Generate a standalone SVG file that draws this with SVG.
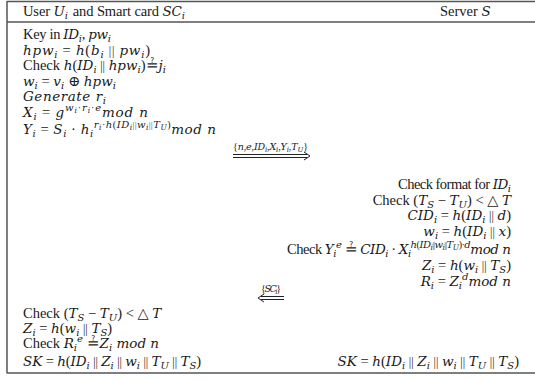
<svg xmlns="http://www.w3.org/2000/svg" width="535" height="380" viewBox="0 0 535 380">
<style>
.t{font-family:"Liberation Serif","DejaVu Serif",serif;font-size:14.5px;fill:#1a1a1a}
.m{font-style:italic;font-family:"DejaVu Serif",serif;font-size:13.5px}
.s{font-size:10px}
.ss{font-size:7.5px}
.p{font-family:"Liberation Serif",serif;font-size:12px;font-style:normal}
.lb{font-family:"Liberation Serif","DejaVu Serif",serif;font-size:10px;fill:#1a1a1a}
.lb .m{font-size:9.5px}
.lb .ss{font-size:7px}
.frame{stroke:#555;stroke-width:1.5;fill:none}
.arr{stroke:#222;stroke-width:1;fill:none}
</style>
<rect width="535" height="380" fill="#fff"/>
<g id="frame">
<path class="frame" d="M7,1.5 H535 M7,22 H535 M7,1 V373.5 M7,373 H535"/>
</g>
<g id="header">
<text class="t" x="23" y="16" textLength="162" lengthAdjust="spacing">User <tspan class="m">U</tspan><tspan class="s m" dy="3">i</tspan><tspan dy="-3" dx="5">and Smart card </tspan><tspan class="m">SC</tspan><tspan class="s m" dy="3">i</tspan></text>
<text class="t" x="440" y="16">Server <tspan class="m">S</tspan></text>
</g>
<g id="user">
<text class="t" x="23" y="39" textLength="88" lengthAdjust="spacing">Key in <tspan class="m">ID</tspan><tspan class="s m" dy="3">i</tspan><tspan dy="-3">, </tspan><tspan class="m">pw</tspan><tspan class="s m" dy="3">i</tspan></text>
<text class="t" x="23" y="55" textLength="127" lengthAdjust="spacing"><tspan class="m">hpw</tspan><tspan class="s m" dy="3">i</tspan><tspan dy="-3"> = </tspan><tspan class="m">h</tspan>(<tspan class="m">b</tspan><tspan class="s m" dy="3">i</tspan><tspan dy="-3"> </tspan><tspan class="p">||</tspan> <tspan class="m">pw</tspan><tspan class="s m" dy="3">i</tspan><tspan dy="-3">)</tspan></text>
<text class="t" x="23" y="70">Check <tspan class="m">h</tspan>(<tspan class="m">ID</tspan><tspan class="s m" dy="3">i</tspan><tspan dy="-3"> </tspan><tspan class="p">||</tspan> <tspan class="m">hpw</tspan><tspan class="s m" dy="3">i</tspan><tspan dy="-3">)≟</tspan><tspan class="m">j</tspan><tspan class="s m" dy="3">i</tspan></text>
<text class="t" x="23" y="86" textLength="93" lengthAdjust="spacing"><tspan class="m">w</tspan><tspan class="s m" dy="3">i</tspan><tspan dy="-3"> = </tspan><tspan class="m">v</tspan><tspan class="s m" dy="3">i</tspan><tspan dy="-3"> ⊕ </tspan><tspan class="m">hpw</tspan><tspan class="s m" dy="3">i</tspan></text>
<text class="t" x="23" y="101" textLength="83" lengthAdjust="spacing"><tspan class="m">Generate r</tspan><tspan class="s m" dy="3">i</tspan></text>
<text class="t" x="23" y="117" textLength="125" lengthAdjust="spacing"><tspan class="m">X</tspan><tspan class="s m" dy="3">i</tspan><tspan dy="-3"> = </tspan><tspan class="m">g</tspan><tspan class="s m" dy="-6">w</tspan><tspan class="ss m" dy="2">i</tspan><tspan class="s" dy="-2">·</tspan><tspan class="s m">r</tspan><tspan class="ss m" dy="2">i</tspan><tspan class="s" dy="-2">·</tspan><tspan class="s m">e</tspan><tspan class="m" dy="6">mod n</tspan></text>
<text class="t" x="23" y="134" textLength="193" lengthAdjust="spacing"><tspan class="m">Y</tspan><tspan class="s m" dy="3">i</tspan><tspan dy="-3"> = </tspan><tspan class="m">S</tspan><tspan class="s m" dy="3">i</tspan><tspan dy="-3"> · </tspan><tspan class="m">h</tspan><tspan class="s m" dy="3">i</tspan><tspan class="s m" dy="-9">r</tspan><tspan class="ss m" dy="2">i</tspan><tspan class="s" dy="-2">·</tspan><tspan class="s m">h</tspan><tspan class="s">(</tspan><tspan class="s m">ID</tspan><tspan class="ss m" dy="2">i</tspan><tspan class="ss" dy="-2">||</tspan><tspan class="s m">w</tspan><tspan class="ss m" dy="2">i</tspan><tspan class="ss" dy="-2">||</tspan><tspan class="s m">T</tspan><tspan class="ss m" dy="2">U</tspan><tspan class="s" dy="-2">)</tspan><tspan class="m" dy="6">mod n</tspan></text>
<text class="t" x="23" y="318">Check (<tspan class="m">T</tspan><tspan class="s m" dy="3">S</tspan><tspan dy="-3"> − </tspan><tspan class="m">T</tspan><tspan class="s m" dy="3">U</tspan><tspan dy="-3">) &lt; △ </tspan><tspan class="m">T</tspan></text>
<text class="t" x="23" y="333"><tspan class="m">Z</tspan><tspan class="s m" dy="3">i</tspan><tspan dy="-3"> = </tspan><tspan class="m">h</tspan>(<tspan class="m">w</tspan><tspan class="s m" dy="3">i</tspan><tspan dy="-3"> </tspan><tspan class="p">||</tspan> <tspan class="m">T</tspan><tspan class="s m" dy="3">S</tspan><tspan dy="-3">)</tspan></text>
<text class="t" x="23" y="348">Check <tspan class="m">R</tspan><tspan class="s m" dy="3">i</tspan><tspan class="s m" dy="-9">e</tspan><tspan dy="6"> ≟</tspan><tspan class="m">Z</tspan><tspan class="s m" dy="3">i</tspan><tspan class="m" dy="-3"> mod n</tspan></text>
<text class="t" x="23" y="366" textLength="178" lengthAdjust="spacing"><tspan class="m">SK</tspan> = <tspan class="m">h</tspan>(<tspan class="m">ID</tspan><tspan class="s m" dy="3">i</tspan><tspan dy="-3"> </tspan><tspan class="p">||</tspan> <tspan class="m">Z</tspan><tspan class="s m" dy="3">i</tspan><tspan dy="-3"> </tspan><tspan class="p">||</tspan> <tspan class="m">w</tspan><tspan class="s m" dy="3">i</tspan><tspan dy="-3"> </tspan><tspan class="p">||</tspan> <tspan class="m">T</tspan><tspan class="s m" dy="3">U</tspan><tspan dy="-3"> </tspan><tspan class="p">||</tspan> <tspan class="m">T</tspan><tspan class="s m" dy="3">S</tspan><tspan dy="-3">)</tspan></text>
</g>
<g id="server">
<text class="t" x="398" y="189" textLength="113" lengthAdjust="spacing">Check format for <tspan class="m">ID</tspan><tspan class="s m" dy="3">i</tspan></text>
<text class="t" x="511" y="205" text-anchor="end">Check (<tspan class="m">T</tspan><tspan class="s m" dy="3">S</tspan><tspan dy="-3"> − </tspan><tspan class="m">T</tspan><tspan class="s m" dy="3">U</tspan><tspan dy="-3">) &lt; △ </tspan><tspan class="m">T</tspan></text>
<text class="t" x="511" y="220" text-anchor="end"><tspan class="m">CID</tspan><tspan class="s m" dy="3">i</tspan><tspan dy="-3"> = </tspan><tspan class="m">h</tspan>(<tspan class="m">ID</tspan><tspan class="s m" dy="3">i</tspan><tspan dy="-3"> </tspan><tspan class="p">||</tspan> <tspan class="m">d</tspan>)</text>
<text class="t" x="511" y="236" text-anchor="end"><tspan class="m">w</tspan><tspan class="s m" dy="3">i</tspan><tspan dy="-3"> = </tspan><tspan class="m">h</tspan>(<tspan class="m">ID</tspan><tspan class="s m" dy="3">i</tspan><tspan dy="-3"> </tspan><tspan class="p">||</tspan> <tspan class="m">x</tspan>)</text>
<text class="t" x="287" y="254" textLength="224" lengthAdjust="spacing">Check <tspan class="m">Y</tspan><tspan class="s m" dy="3">i</tspan><tspan class="s m" dy="-9">e</tspan><tspan dy="6"> ≟ </tspan><tspan class="m">CID</tspan><tspan class="s m" dy="3">i</tspan><tspan dy="-3"> · </tspan><tspan class="m">X</tspan><tspan class="s m" dy="3">i</tspan><tspan class="s m" dy="-9">h</tspan><tspan class="s">(</tspan><tspan class="s m">ID</tspan><tspan class="ss m" dy="2">i</tspan><tspan class="ss" dy="-2">||</tspan><tspan class="s m">w</tspan><tspan class="ss m" dy="2">i</tspan><tspan class="ss" dy="-2">||</tspan><tspan class="s m">T</tspan><tspan class="ss m" dy="2">U</tspan><tspan class="s" dy="-2">)·</tspan><tspan class="s m">d</tspan><tspan class="m" dy="6">mod n</tspan></text>
<text class="t" x="511" y="270" text-anchor="end"><tspan class="m">Z</tspan><tspan class="s m" dy="3">i</tspan><tspan dy="-3"> = </tspan><tspan class="m">h</tspan>(<tspan class="m">w</tspan><tspan class="s m" dy="3">i</tspan><tspan dy="-3"> </tspan><tspan class="p">||</tspan> <tspan class="m">T</tspan><tspan class="s m" dy="3">S</tspan><tspan dy="-3">)</tspan></text>
<text class="t" x="511" y="286" text-anchor="end"><tspan class="m">R</tspan><tspan class="s m" dy="3">i</tspan><tspan dy="-3"> = </tspan><tspan class="m">Z</tspan><tspan class="s m" dy="3">i</tspan><tspan class="s m" dy="-9">d</tspan><tspan class="m" dy="6">mod n</tspan></text>
<text class="t" x="519" y="366" text-anchor="end"><tspan class="m">SK</tspan> = <tspan class="m">h</tspan>(<tspan class="m">ID</tspan><tspan class="s m" dy="3">i</tspan><tspan dy="-3"> </tspan><tspan class="p">||</tspan> <tspan class="m">Z</tspan><tspan class="s m" dy="3">i</tspan><tspan dy="-3"> </tspan><tspan class="p">||</tspan> <tspan class="m">w</tspan><tspan class="s m" dy="3">i</tspan><tspan dy="-3"> </tspan><tspan class="p">||</tspan> <tspan class="m">T</tspan><tspan class="s m" dy="3">U</tspan><tspan dy="-3"> </tspan><tspan class="p">||</tspan> <tspan class="m">T</tspan><tspan class="s m" dy="3">S</tspan><tspan dy="-3">)</tspan></text>
</g>
<g id="connectors">
<g id="msg1">
<text class="lb" x="233" y="150" textLength="75" lengthAdjust="spacing">{<tspan class="m">n</tspan>,<tspan class="m">e</tspan>,<tspan class="m">ID</tspan><tspan class="ss m" dy="2">i</tspan><tspan dy="-2">,</tspan><tspan class="m">X</tspan><tspan class="ss m" dy="2">i</tspan><tspan dy="-2">,</tspan><tspan class="m">Y</tspan><tspan class="ss m" dy="2">i</tspan><tspan dy="-2">,</tspan><tspan class="m">T</tspan><tspan class="ss m" dy="2">U</tspan><tspan dy="-2">}</tspan></text>
<path class="arr" d="M233,154.5 H307 M233,157.5 H307 M304,152 L310,156 L304,160"/>
</g>
<g id="msg2">
<text class="lb" x="261" y="292" textLength="20" lengthAdjust="spacing">{<tspan class="m">SC</tspan><tspan class="ss m" dy="2">i</tspan><tspan dy="-2">}</tspan></text>
<path class="arr" d="M261,296.5 H284 M261,299.5 H284 M264,294 L258,298 L264,302"/>
</g>
</g>
</svg>
